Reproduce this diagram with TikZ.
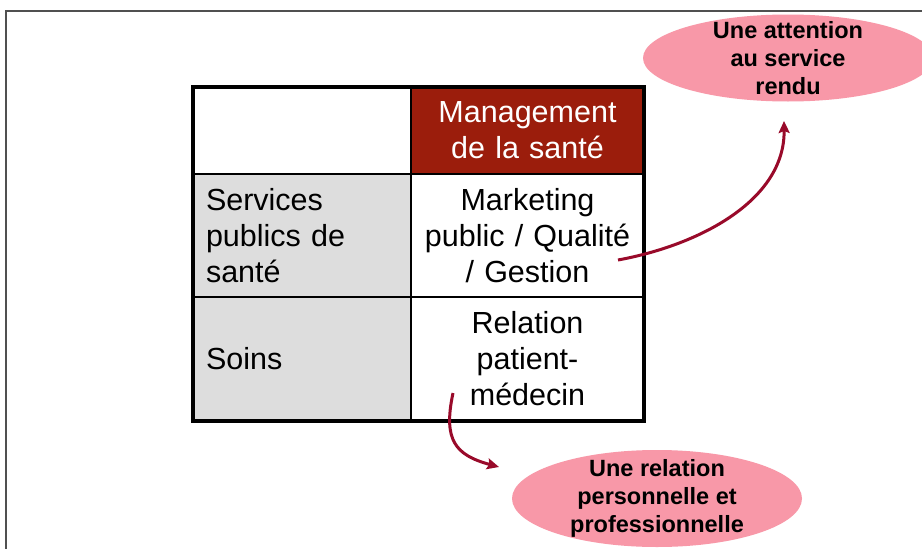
\documentclass[tikz,border=0pt]{standalone}
\usepackage{fontspec}
\setmainfont{Liberation Sans}
\usetikzlibrary{shapes.geometric,arrows.meta}
\definecolor{hdr}{RGB}{155,29,12}
\definecolor{cellgray}{RGB}{221,221,221}
\definecolor{bubble}{RGB}{248,152,168}
\definecolor{arrowred}{RGB}{153,10,42}
\definecolor{framegray}{RGB}{80,80,80}
\begin{document}
\begin{tikzpicture}[x=1pt,y=-1pt,
  cell/.style={rectangle, inner sep=0pt, font=\fontsize{30.5}{36}\selectfont},
  leftcell/.style={cell, fill=cellgray, text width=192pt, align=left, minimum width=218pt},
  rightcell/.style={cell, fill=white, text width=225pt, align=center, minimum width=233pt},
  bubbleshape/.style={ellipse, fill=bubble, draw=none, inner sep=0pt},
  bubbletext/.style={align=center, inner sep=0pt, font=\bfseries\fontsize{23.5}{28}\selectfont},
  arr/.style={draw=arrowred, line width=3pt, -{Stealth[length=12pt,width=11pt,inset=2pt]}}
]
\useasboundingbox (0,0) rectangle (922,549);
\clip (0,0) rectangle (922,549);
\fill[white] (0,0) rectangle (922,549);
% frame
\draw[framegray, line width=1.3pt] (6,11) rectangle (940,570);

% table cells
\node[cell, fill=white, minimum width=218pt, minimum height=87pt] (c11) at (302,130.5) {};
\node[cell, fill=hdr, text=white, text width=225pt, align=center, minimum width=233pt, minimum height=87pt] (c12) at (527.5,130.5) {Management\\de la santé};
\node[leftcell, minimum height=123pt] (c21) at (302,235.5) {Services\\publics de\\santé};
\node[rightcell, minimum height=123pt] (c22) at (527.5,235.5) {Marketing\\public / Qualité\\/ Gestion};
\node[leftcell, minimum height=124pt] (c31) at (302,359) {Soins};
\node[rightcell, minimum height=124pt] (c32) at (527.5,359) {Relation\\patient-\\médecin};

% grid lines
\draw[line width=2.5pt] (c11.north east) -- (c31.south east);
\draw[line width=2.5pt] (c11.south west) -- (c12.south east);
\draw[line width=2.5pt] (c21.south west) -- (c22.south east);
\draw[line width=3.5pt] (c11.north west) rectangle (c32.south east);

% bubbles
\node[bubbleshape, minimum width=290pt, minimum height=87pt] (b1) at (788,58) {};
\node[bubbletext] (b1t) at (b1.center) {Une attention\\au service\\rendu};
\node[bubbleshape, minimum width=290pt, minimum height=97pt] (b2) at (657,498.5) {};
\node[bubbletext] (b2t) at (b2.center) {Une relation\\personnelle et\\professionnelle};

% arrows
\coordinate (s1) at (618,260);
\coordinate (t1) at (784,121);
\coordinate (s2) at (453,393);
\coordinate (t2) at (499,467);
\draw[arr] (s1) .. controls (700,245) and (785,200) .. (t1);
\draw[arr] (s2) .. controls (443,440) and (455,455) .. (t2);
\end{tikzpicture}
\end{document}
